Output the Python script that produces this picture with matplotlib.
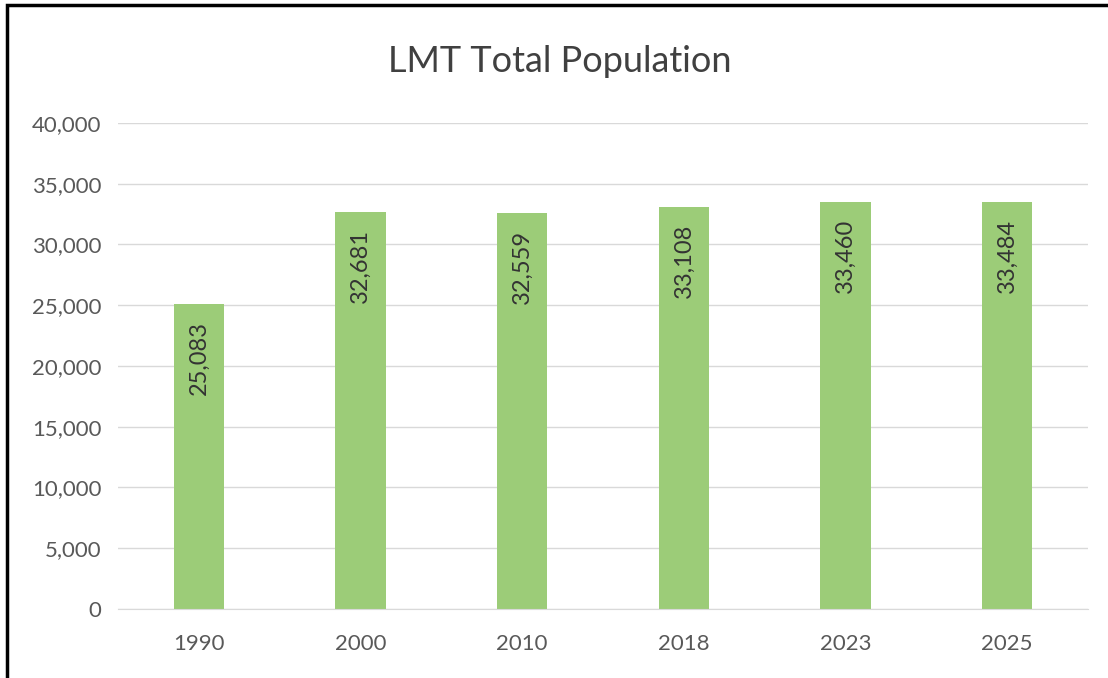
import matplotlib.pyplot as plt
from matplotlib.patches import Rectangle

# LMT population by year
years = ['1990', '2000', '2010', '2018', '2023', '2025']
population = [25083, 32681, 32559, 33108, 33460, 33484]
y_ticks = [0, 5000, 10000, 15000, 20000, 25000, 30000, 35000, 40000]

plt.rcParams['font.family'] = ['Lato', 'DejaVu Sans']

fig = plt.figure(figsize=(11.08, 6.78), dpi=100)
ax = fig.add_axes([0.1065, 0.1018, 0.8755, 0.7168])

x = range(len(years))
bars = ax.bar(x, population, width=0.31, color='#9ccc78', zorder=2)

for rect, val in zip(bars, population):
    ax.annotate(f'{val:,}', xy=(rect.get_x() + rect.get_width() / 2, rect.get_height()),
                xytext=(0, -12), textcoords='offset points',
                rotation=90, ha='center', va='top',
                fontsize=17, color='#333333')

ax.set_xlim(-0.5, len(years) - 0.5)
ax.set_ylim(0, 40000)
ax.set_yticks(y_ticks)
ax.set_yticklabels([f'{t:,}' for t in y_ticks])
ax.set_xticks(list(x))
ax.set_xticklabels(years)
ax.tick_params(axis='both', length=0, labelsize=16, labelcolor='#595959')
ax.tick_params(axis='x', pad=18)
ax.tick_params(axis='y', pad=12)
ax.grid(axis='y', color='#d9d9d9', linewidth=1, zorder=0)
for s in ['top', 'right', 'left']:
    ax.spines[s].set_visible(False)
ax.spines['bottom'].set_color('#d9d9d9')

fig.text(0.505, 0.91, 'LMT Total Population', ha='center', va='center',
         fontsize=26, color='#404040')

# black frame around the chart
fig.patches.append(Rectangle((0.0063, -0.01), 1.0, 1.0026, transform=fig.transFigure,
                             fill=False, edgecolor='black', linewidth=2.5))

fig.savefig('out.png', dpi=100)
